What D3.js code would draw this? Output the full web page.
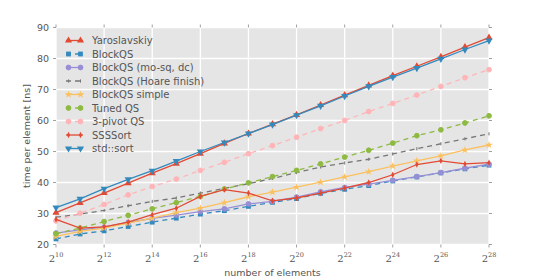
<!DOCTYPE html>
<html>
<head>
<meta charset="utf-8">
<script src="https://cdn.jsdelivr.net/npm/d3@7"></script>
<style>
  body { margin: 0; background: #fff; }
  text { font-family: "DejaVu Sans", sans-serif; fill: #555; }
</style>
</head>
<body>
<div id="chart"></div>
<script>
// exponents of the input size (2^n elements)
const exps = [10,11,12,13,14,15,16,17,18,19,20,21,22,23,24,25,26,27,28];

const yaroslavskiy = [30.3,33.4,36.6,39.8,43.0,46.1,49.3,52.6,55.8,58.8,61.8,65.0,68.2,71.3,74.5,77.5,80.5,83.7,86.7];
const blockQS      = [21.8,23.4,24.4,25.8,27.2,28.5,29.8,30.9,32.3,33.6,34.8,36.5,37.8,39.0,40.5,41.8,43.1,44.4,45.6];
const blockMosq    = [23.7,24.7,25.6,27.1,28.4,29.5,30.6,31.5,33.1,33.9,35.3,37.0,38.4,39.5,40.7,41.9,43.2,44.6,45.9];
const blockHoare   = [28.8,29.8,31.0,32.5,33.9,35.0,36.6,38.1,39.6,41.3,43.2,45.0,46.3,47.5,49.2,50.9,52.5,54.1,55.7];
const blockSimple  = [22.6,24.2,25.3,26.9,28.5,30.3,31.7,33.5,35.4,36.9,38.5,40.1,41.8,43.5,45.3,47.0,48.6,50.5,52.1];
const tunedQS      = [23.5,25.3,27.4,29.4,31.5,33.5,35.5,37.9,39.9,41.9,43.9,46.0,48.2,50.4,52.7,55.1,57.0,59.2,61.5];
const pivot3QS     = [27.6,30.1,32.9,36.0,38.7,41.1,43.9,46.5,49.3,51.9,54.6,57.4,60.0,62.9,65.5,68.2,71.0,73.8,76.4];
const ssssort      = [28.1,25.3,25.7,27.2,29.6,31.7,35.5,37.7,36.6,34.1,35.0,36.6,38.2,40.0,42.5,45.8,47.0,46.0,46.4];
const stdSort      = [31.9,34.7,38.0,41.0,43.8,46.9,50.0,52.9,55.8,58.7,61.7,64.7,67.9,71.0,74.0,76.9,79.9,82.9,85.8];

const xTicks = [10,12,14,16,18,20,22,24,26,28];
const yTicks = [20,30,40,50,60,70,80,90];

const series = [
  {name: "Yaroslavskiy",          values: yaroslavskiy, color: "#E24A33", dash: null,  marker: "triUp"},
  {name: "BlockQS",               values: blockQS,      color: "#348ABD", dash: "5,4", marker: "square"},
  {name: "BlockQS (mo-sq, dc)",   values: blockMosq,    color: "#988ED5", dash: null,  marker: "circle"},
  {name: "BlockQS (Hoare finish)",values: blockHoare,   color: "#777777", dash: "5,4", marker: "tick"},
  {name: "BlockQS simple",        values: blockSimple,  color: "#FBC15E", dash: null,  marker: "star"},
  {name: "Tuned QS",              values: tunedQS,      color: "#8EBA42", dash: "5,4", marker: "circle"},
  {name: "3-pivot QS",            values: pivot3QS,     color: "#FFB5B8", dash: "5,4", marker: "circle"},
  {name: "SSSSort",               values: ssssort,      color: "#E24A33", dash: null,  marker: "diamond"},
  {name: "std::sort",             values: stdSort,      color: "#348ABD", dash: null,  marker: "triDown"}
];

const margin = {top: 27.5, right: 57, bottom: 35.5, left: 56},
      width = 546 - margin.left - margin.right,
      height = 280 - margin.top - margin.bottom;

const svg = d3.select("#chart")
  .append("svg")
    .attr("width", 546)
    .attr("height", 280)
  .append("g")
    .attr("transform", `translate(${margin.left},${margin.top})`);

const x = d3.scaleLinear().domain([10, 28]).range([0, width]);
const y = d3.scaleLinear().domain([20, 90]).range([height, 0]);

// background + grid
svg.append("rect")
  .attr("width", width).attr("height", height)
  .attr("fill", "#E5E5E5");

svg.selectAll(".vgrid").data(xTicks).join("line")
  .attr("x1", d => x(d)).attr("x2", d => x(d))
  .attr("y1", 0).attr("y2", height)
  .attr("stroke", "#fff").attr("stroke-width", 1.3);

svg.selectAll(".hgrid").data(yTicks).join("line")
  .attr("x1", 0).attr("x2", width)
  .attr("y1", d => y(d)).attr("y2", d => y(d))
  .attr("stroke", "#fff").attr("stroke-width", 1.3);

// tick marks on all four sides
const tickLen = 3;
const ticks = svg.append("g").attr("stroke", "#777").attr("stroke-width", 0.7);
xTicks.forEach(t => {
  ticks.append("line").attr("x1", x(t)).attr("x2", x(t)).attr("y1", height).attr("y2", height + tickLen);
  ticks.append("line").attr("x1", x(t)).attr("x2", x(t)).attr("y1", 0).attr("y2", -tickLen);
});
yTicks.forEach(t => {
  ticks.append("line").attr("x1", 0).attr("x2", -tickLen).attr("y1", y(t)).attr("y2", y(t));
  ticks.append("line").attr("x1", width).attr("x2", width + tickLen).attr("y1", y(t)).attr("y2", y(t));
});

// tick labels
yTicks.forEach(t => {
  svg.append("text")
    .attr("x", -7).attr("y", y(t)).attr("dy", "0.35em")
    .attr("text-anchor", "end")
    .style("font-size", "9.5px")
    .text(t);
});

xTicks.forEach(t => {
  const lbl = svg.append("text")
    .attr("x", x(t)).attr("y", height + 17)
    .attr("text-anchor", "middle")
    .style("font-family", "'DejaVu Serif', serif")
    .style("font-size", "10px");
  lbl.append("tspan").text("2");
  lbl.append("tspan").attr("dy", -5).style("font-size", "6.5px").text(t);
});

// axis labels
svg.append("text")
  .attr("x", width / 2).attr("y", height + 31)
  .attr("text-anchor", "middle")
  .style("font-size", "9.5px")
  .text("number of elements");

svg.append("text")
  .attr("transform", "rotate(-90)")
  .attr("x", -height / 2).attr("y", -26)
  .attr("text-anchor", "middle")
  .style("font-size", "9.5px")
  .text("time per element [ns]");

// markers
function drawMarker(g, type, cx, cy, color) {
  const s = 2.4;
  if (type === "circle") {
    g.append("circle").attr("cx", cx).attr("cy", cy).attr("r", s)
      .attr("fill", color).attr("stroke", color);
  } else if (type === "square") {
    g.append("rect").attr("x", cx - s).attr("y", cy - s).attr("width", 2 * s).attr("height", 2 * s)
      .attr("fill", color);
  } else if (type === "triUp") {
    g.append("path").attr("d", d3.symbol(d3.symbolTriangle, 22)()).attr("transform", `translate(${cx},${cy})`)
      .attr("fill", color);
  } else if (type === "triDown") {
    g.append("path").attr("d", d3.symbol(d3.symbolTriangle, 22)()).attr("transform", `translate(${cx},${cy}) rotate(180)`)
      .attr("fill", color);
  } else if (type === "star") {
    g.append("path").attr("d", d3.symbol(d3.symbolStar, 18)()).attr("transform", `translate(${cx},${cy})`)
      .attr("fill", color);
  } else if (type === "diamond") {
    g.append("path").attr("d", `M0,-3.2L1.6,0L0,3.2L-1.6,0Z`).attr("transform", `translate(${cx},${cy})`)
      .attr("fill", color);
  } else if (type === "tick") {
    g.append("line").attr("x1", cx).attr("x2", cx).attr("y1", cy - 1.6).attr("y2", cy + 1.6)
      .attr("stroke", color).attr("stroke-width", 1);
  }
}

const line = d3.line()
  .x((d, i) => x(exps[i]))
  .y(d => y(d));

series.forEach(s => {
  const g = svg.append("g");
  g.append("path")
    .attr("d", line(s.values))
    .attr("fill", "none")
    .attr("stroke", s.color)
    .attr("stroke-width", 1.3)
    .attr("stroke-dasharray", s.dash);
  s.values.forEach((v, i) => drawMarker(g, s.marker, x(exps[i]), y(v), s.color));
});

// legend
const legend = svg.append("g").attr("transform", "translate(10,13)");
series.forEach((s, i) => {
  const row = legend.append("g").attr("transform", `translate(0,${i * 13.5})`);
  row.append("line")
    .attr("x1", 0).attr("x2", 17).attr("y1", 0).attr("y2", 0)
    .attr("stroke", s.color).attr("stroke-width", 1.3)
    .attr("stroke-dasharray", s.dash);
  drawMarker(row, s.marker, 2.5, 0, s.color);
  drawMarker(row, s.marker, 14.5, 0, s.color);
  row.append("text")
    .attr("x", 26).attr("y", 0).attr("dy", "0.35em")
    .style("font-size", "10px")
    .text(s.name);
});
</script>
</body>
</html>
